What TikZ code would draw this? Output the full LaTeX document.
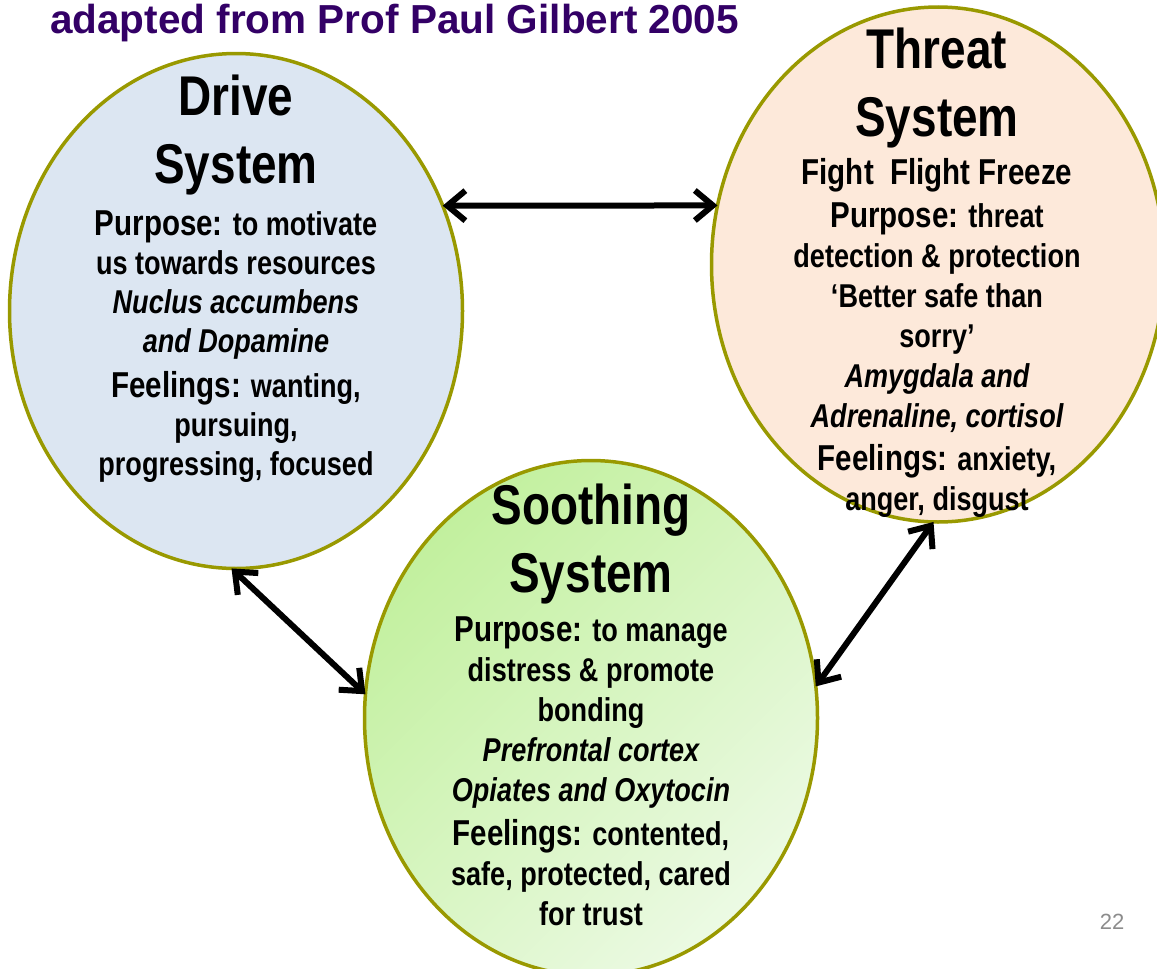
\documentclass[tikz,border=0pt]{standalone}
\usepackage{fontspec}
\setmainfont{Liberation Sans}[FakeStretch=0.82]
\newfontfamily\titlefont{Liberation Sans}
\usetikzlibrary{arrows.meta,shapes.geometric}
\definecolor{olivebd}{RGB}{153,153,0}
\definecolor{drivefill}{RGB}{220,230,242}
\definecolor{threatfill}{RGB}{253,233,218}
\definecolor{soothA}{RGB}{194,240,158}
\definecolor{soothB}{RGB}{236,250,228}
\definecolor{titlepurple}{RGB}{51,0,102}
\definecolor{pagegray}{RGB}{140,140,140}
\newcommand\lgword[1]{{\fontsize{36}{40}\selectfont #1}}
\begin{document}
\begin{tikzpicture}[x=1pt,y=-1pt,
  sysellipse/.style={ellipse, minimum width=453pt, minimum height=515pt,
    inner sep=0pt, outer sep=0pt, draw=olivebd, line width=3.5pt},
  headtext/.style={align=center, anchor=base, inner sep=0pt,
    font=\fontsize{56}{68}\selectfont\bfseries},
  bodytext/.style={align=center, anchor=base, inner sep=0pt,
    font=\fontsize{33}{40}\selectfont\bfseries},
  link/.style={line width=6pt, line join=round,
    {Straight Barb[length=18pt,width=30pt]}-{Straight Barb[length=18pt,width=30pt]}}
]
\useasboundingbox (0,0) rectangle (1157,969);
\fill[white] (0,0) rectangle (1157,969);
\clip (0,0) rectangle (1157,969);

% title and page number
\node[font=\titlefont\bfseries\fontsize{40.5}{48}\selectfont, text=titlepurple,
  anchor=base west, inner sep=0pt] (title) at (50,34) {adapted from Prof Paul Gilbert 2005};
\node[font=\titlefont\fontsize{22}{26}\selectfont, text=pagegray, anchor=base,
  inner sep=0pt] (pnum) at (1112,929) {22};

% ellipses
\node[sysellipse, fill=drivefill] (drive) at (236,311) {};
\node[sysellipse, fill=threatfill] (threat) at (938,264.5) {};
\node[sysellipse, top color=soothA, bottom color=soothB, shading angle=45] (sooth) at (591,718) {};

% connectors
\draw[link] (drive.27.3) -- (threat.165.1);
\draw[link] (drive.-91) -- (sooth.174);
\draw[link] (threat.-91) -- (sooth.8.3);

% Drive text (anchor = baseline of last line)
\node[headtext] (driveh) at (236,183) {Drive\\System};
\node[bodytext, font=\fontsize{33}{39}\selectfont\bfseries] (driveb) at (236,475)
  {\lgword{Purpose:} to motivate\\
   us towards resources\\
   \itshape Nuclus accumbens\\
   \itshape and Dopamine\\[6pt]
   \lgword{Feelings:} wanting,\\
   pursuing,\\
   progressing, focused};

% Threat text
\node[headtext] (threath) at (937,136) {Threat\\System};
\node[bodytext] (threatb) at (937,510)
  {\lgword{Fight\ \ Flight Freeze}\\[3pt]
   \lgword{Purpose:} threat\\
   detection \& protection\\
   `Better safe than\\
   sorry'\\
   \itshape Amygdala and\\
   \itshape Adrenaline, cortisol\\[3pt]
   \lgword{Feelings:} anxiety,\\
   anger, disgust};

% Soothing text
\node[headtext] (soothh) at (591,592) {Soothing\\System};
\node[bodytext] (soothb) at (591,925)
  {\lgword{Purpose:} to manage\\
   distress \& promote\\
   bonding\\
   \itshape Prefrontal cortex\\
   \itshape Opiates and Oxytocin\\[4pt]
   \lgword{Feelings:} contented,\\
   safe, protected, cared\\
   for trust};
\end{tikzpicture}
\end{document}
